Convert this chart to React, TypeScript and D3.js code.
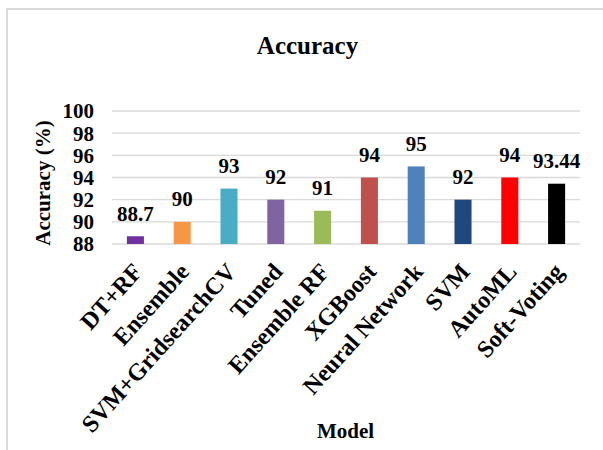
import React from "react";
import * as d3 from "d3";

const categories = ["DT+RF", "Ensemble", "SVM+GridsearchCV", "Tuned", "Ensemble RF", "XGBoost", "Neural Network", "SVM", "AutoML", "Soft-Voting"];
const values = [88.7, 90, 93, 92, 91, 94, 95, 92, 94, 93.44];
const valueLabels = ["88.7", "90", "93", "92", "91", "94", "95", "92", "94", "93.44"];
const colors = ["#7030a0", "#f79646", "#4bacc6", "#8064a2", "#9bbb59", "#c0504d", "#4f81bd", "#1f497d", "#ff0000", "#000000"];
const yTicks = [88, 90, 92, 94, 96, 98, 100];

const W = 603;
const H = 450;
const FONT = "'Liberation Serif', 'Times New Roman', serif";

export default function App() {
  const x = d3.scaleBand<string>().domain(categories).range([112, 580]).paddingInner(0.636).paddingOuter(0.318);
  const y = d3.scaleLinear().domain([88, 100]).range([244, 111]);
  const bw = x.bandwidth();

  return (
    <svg width={W} height={H} style={{ position: "absolute", left: 0, top: 0, background: "#fff" }} fontFamily={FONT}>
      <rect x={7} y={9} width={W + 20} height={H + 20} fill="#fff" stroke="#d9d9d9" strokeWidth={2} />
      <text x={307.5} y={54} textAnchor="middle" fontSize={25} fontWeight="bold">Accuracy</text>
      {yTicks.map((t) => (
        <g key={t}>
          <line x1={112} x2={580} y1={y(t)} y2={y(t)} stroke="#d9d9d9" strokeWidth={1.4} />
          <text x={94} y={y(t)} dy="0.35em" textAnchor="end" fontSize={21} fontWeight="bold">{t}</text>
        </g>
      ))}
      {categories.map((c, i) => (
        <rect key={c} x={x(c)} y={y(values[i])} width={bw} height={y(88) - y(values[i])} fill={colors[i]} />
      ))}
      {categories.map((c, i) => (
        <text key={c + "v"} x={(x(c) as number) + bw / 2} y={y(values[i]) - 15.5} textAnchor="middle" fontSize={21} fontWeight="bold">{valueLabels[i]}</text>
      ))}
      {categories.map((c) => {
        const cx = (x(c) as number) + bw / 2 + 2;
        const cy = 267;
        return (
          <text key={c + "l"} x={cx} y={cy} dy="0.35em" textAnchor="end" fontSize={24} fontWeight="bold" transform={`rotate(-48 ${cx} ${cy})`}>{c}</text>
        );
      })}
      <text x={43} y={183} dy="0.35em" textAnchor="middle" fontSize={21} fontWeight="bold" transform="rotate(-90 43 183)">Accuracy (%)</text>
      <text x={345.5} y={438} textAnchor="middle" fontSize={21} fontWeight="bold">Model</text>
    </svg>
  );
}
